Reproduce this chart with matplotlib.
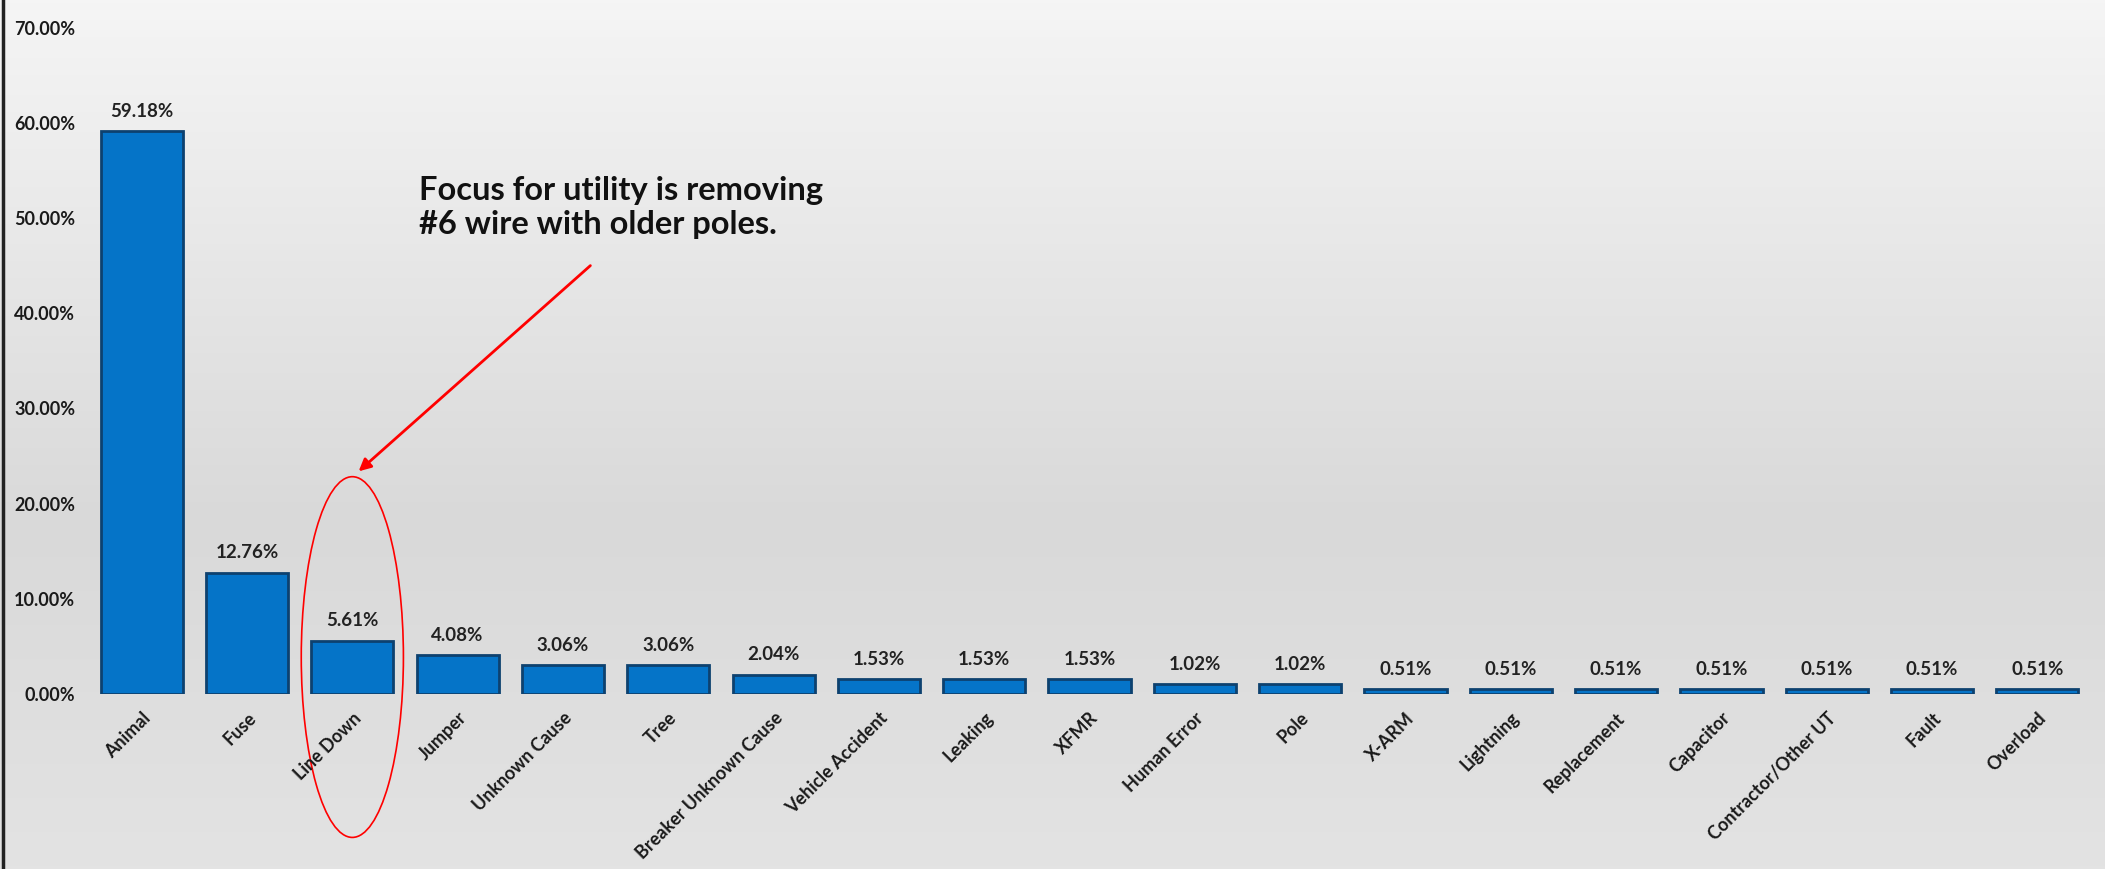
import numpy as np
import matplotlib
matplotlib.use("Agg")
import matplotlib.pyplot as plt
from matplotlib.patches import Ellipse
from matplotlib.colors import LinearSegmentedColormap
from matplotlib.ticker import PercentFormatter

causes = ["Animal", "Fuse", "Line Down", "Jumper", "Unknown Cause", "Tree",
          "Breaker Unknown Cause", "Vehicle Accident", "Leaking", "XFMR",
          "Human Error", "Pole", "X-ARM", "Lightning", "Replacement",
          "Capacitor", "Contractor/Other UT", "Fault", "Overload"]
shares = [59.18, 12.76, 5.61, 4.08, 3.06, 3.06, 2.04, 1.53, 1.53, 1.53,
          1.02, 1.02, 0.51, 0.51, 0.51, 0.51, 0.51, 0.51, 0.51]
yticks = [0, 10, 20, 30, 40, 50, 60, 70]
note = "Focus for utility is removing\n#6 wire with older poles."

plt.rcParams['font.family'] = ['Lato', 'DejaVu Sans']

fig = plt.figure(figsize=(21.05, 8.69), dpi=100)

# gradient background like the slide
bg = fig.add_axes([0, 0, 1, 1], zorder=0)
cmap = LinearSegmentedColormap.from_list(
    "bg", [(0, "#f5f5f5"), (0.6, "#d9d9d9"), (1, "#e3e3e3")])
bg.imshow(np.linspace(0, 1, 256).reshape(-1, 1), aspect="auto", cmap=cmap,
          extent=[0, 1, 0, 1])
bg.axis("off")
fig.add_artist(plt.Line2D([0.0015, 0.0015], [0, 1], color="#222222", lw=2.5))

ax = fig.add_axes([0.0423, 0.2014, 0.9506, 0.7886], zorder=1)
ax.patch.set_alpha(0)
x = np.arange(len(causes))
bars = ax.bar(x, shares, width=0.78, color="#0574C8", edgecolor="#0D416F",
              linewidth=2)

for b, v in zip(bars, shares):
    ax.annotate(f"{v:.2f}%", (b.get_x() + b.get_width() / 2, v),
                xytext=(0, 8), textcoords="offset points", ha="center",
                va="bottom", fontsize=13.5, fontweight="bold", color="#222222")

ax.set_xlim(-0.5, len(causes) - 0.5)
ax.set_ylim(0, 72)
ax.set_yticks(yticks)
ax.yaxis.set_major_formatter(PercentFormatter(decimals=2))
ax.set_xticks(x)
ax.set_xticklabels(causes, rotation=45, ha="right", va="top",
                   rotation_mode="anchor")
ax.tick_params(axis="x", length=0, labelsize=13, pad=11)
ax.tick_params(axis="y", length=0, labelsize=13, pad=10)
for lab in ax.get_xticklabels() + ax.get_yticklabels():
    lab.set_fontweight("bold")
    lab.set_color("#1a1a1a")
for s in ax.spines.values():
    s.set_visible(False)

# highlight on Line Down
ax.add_patch(Ellipse((2, 3.88), 0.97, 37.9, fill=False, edgecolor="red",
                     lw=1.2, clip_on=False))
ax.annotate("", xy=(2.04, 23.2), xytext=(4.28, 45.2),
            arrowprops=dict(arrowstyle="-|>", color="red", lw=2,
                            mutation_scale=18))
ax.text(2.63, 54.4, note, ha="left", va="top", fontsize=23.5,
        fontweight="bold", color="#111111", linespacing=1.2)

fig.savefig("out.png", dpi=100)
